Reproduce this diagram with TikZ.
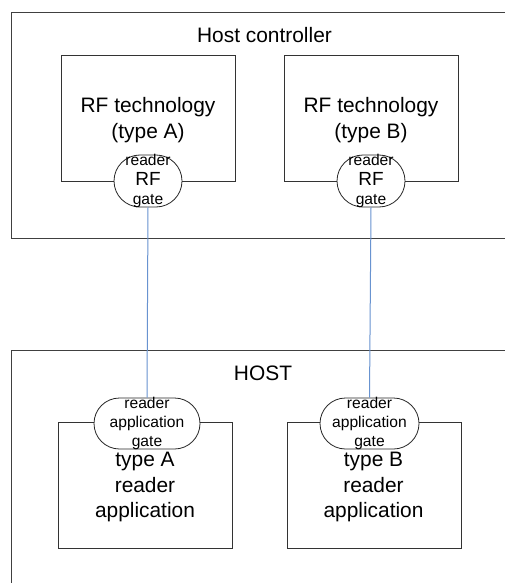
\documentclass[tikz,border=0pt]{standalone}
\usepackage{fontspec}
\setmainfont{Liberation Sans}
\usetikzlibrary{shapes.misc}
\definecolor{linkblue}{RGB}{104,147,208}
\tikzset{
  region/.style={draw=black!75,line width=0.9pt},
  box/.style={draw=black!80,line width=0.9pt,fill=white,inner sep=0pt},
  gatebox/.style={rounded rectangle,draw=black!85,line width=0.8pt,fill=white,inner sep=0pt},
  gatetext/.style={inner sep=0pt,align=center,font=\fontsize{15.6}{19.4}\selectfont},
  label/.style={inner sep=0pt,align=center,font=\fontsize{20.9}{25.6}\selectfont},
  link/.style={draw=linkblue,line width=1pt}
}
\begin{document}
\begin{tikzpicture}[x=1pt,y=-1pt]
\useasboundingbox (0,0) rectangle (505,583);
\fill[white] (0,0) rectangle (505,583);
% regions, open at the picture's edges
\draw[region] (505,12.5) -- (11.5,12.5) -- (11.5,238.5) -- (505,238.5);
\draw[region] (505,350.5) -- (11.5,350.5) -- (11.5,583);
\node[label] (hc) at (264.5,35) {Host controller};
\node[label] (host) at (263,373) {HOST};
% boxes
\node[box,minimum width=174pt,minimum height=126pt] (rfa) at (148,118) {};
\node[box,minimum width=174pt,minimum height=126pt] (rfb) at (371,118) {};
\node[box,minimum width=174pt,minimum height=126pt] (apa) at (145,485) {};
\node[box,minimum width=174pt,minimum height=126pt] (apb) at (374,485) {};
\node[label] (rfat) at (148,120) {RF technology\\(type A)};
\node[label] (rfbt) at (371,120) {RF technology\\(type B)};
\node[label] (apat) at (145,487) {type A\\reader\\application};
\node[label] (apbt) at (373.5,487) {type B\\reader\\application};
% gates
\node[gatebox,minimum width=68pt,minimum height=52pt] (ga) at (148,181) {};
\node[gatebox,minimum width=68pt,minimum height=52pt] (gb) at (371,181) {};
\node[gatebox,minimum width=106pt,minimum height=51pt] (aa) at (147,423.5) {};
\node[gatebox,minimum width=99pt,minimum height=51pt] (ab) at (369.5,423.5) {};
\node[gatetext] (gat) at (ga) {reader\\{\fontsize{19}{19.4}\selectfont RF}\\gate};
\node[gatetext] (gbt) at (gb) {reader\\{\fontsize{19}{19.4}\selectfont RF}\\gate};
\node[gatetext] (aat) at (aa) {reader\\application\\gate};
\node[gatetext] (abt) at (ab) {reader\\application\\gate};
% connectors
\draw[link] (ga.south) -- (aa.north);
\draw[link] (gb.south) -- (ab.north);
\end{tikzpicture}
\end{document}
